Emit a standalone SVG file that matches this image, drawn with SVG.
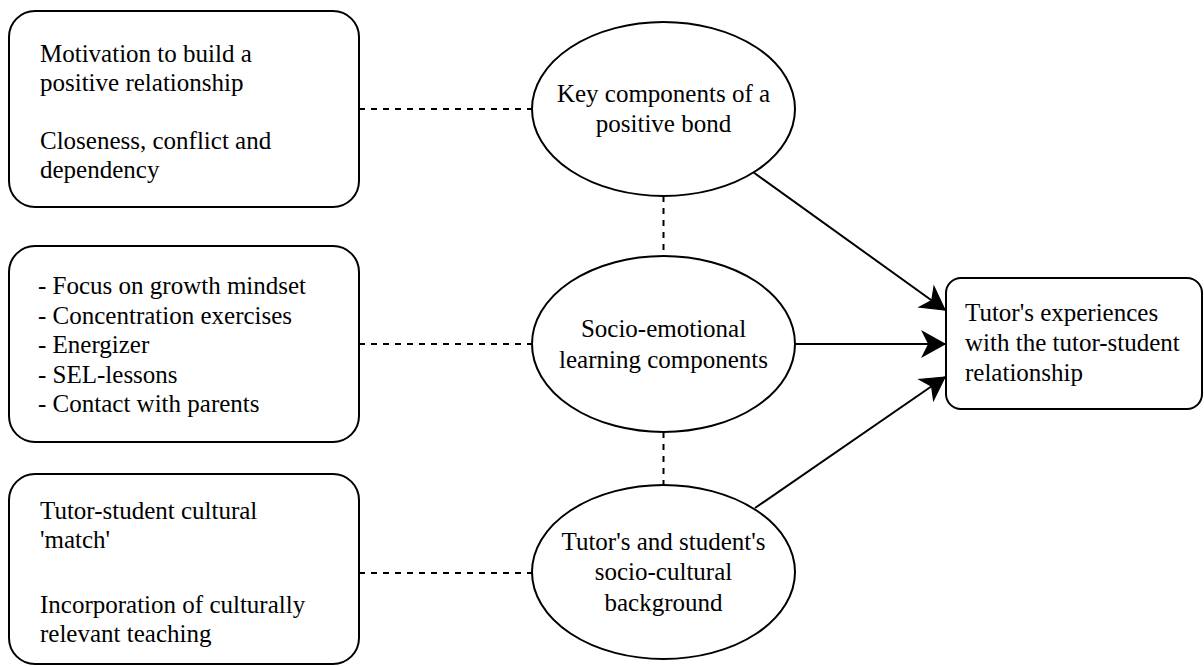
<svg xmlns="http://www.w3.org/2000/svg" width="1204" height="666" viewBox="0 0 1204 666">
<defs>
<style>
.box{fill:#fff;stroke:#000;stroke-width:2}
.t{font-family:'Liberation Serif','Times New Roman',serif;font-size:25px;fill:#000}
.c{text-anchor:middle}
.dash{stroke:#000;stroke-width:2;stroke-dasharray:6 6;fill:none}
.arr{stroke:#000;stroke-width:2;fill:none;marker-end:url(#ah)}
</style>
<marker id="ah" markerUnits="userSpaceOnUse" markerWidth="30" markerHeight="30" refX="0" refY="0" viewBox="-20 -12 24 24" orient="auto" overflow="visible">
<path d="M0,0 L-18,-10 L-13,0 L-18,10 Z" fill="#000" stroke="#000" stroke-width="1"/>
</marker>
</defs>
<rect width="1204" height="666" fill="#fff"/>
<g id="connectors">
<line class="dash" x1="359" y1="109" x2="532" y2="109"/>
<line class="dash" x1="359" y1="344" x2="532" y2="344"/>
<line class="dash" x1="359" y1="573" x2="532" y2="573"/>
<line class="dash" x1="663.5" y1="196" x2="663.5" y2="256"/>
<line class="dash" x1="663.5" y1="432" x2="663.5" y2="484"/>
<line class="arr" x1="753" y1="172" x2="945" y2="310"/>
<line class="arr" x1="795" y1="344" x2="945" y2="344"/>
<line class="arr" x1="755" y1="508" x2="945" y2="377"/>
</g>
<g id="box1">
<rect class="box" x="9" y="11" width="350" height="196" rx="26"/>
<text class="t" x="40" y="62">Motivation to build a</text>
<text class="t" x="40" y="91">positive relationship</text>
<text class="t" x="40" y="149">Closeness, conflict and</text>
<text class="t" x="40" y="178">dependency</text>
</g>
<g id="box2">
<rect class="box" x="9" y="246" width="350" height="196" rx="26"/>
<text class="t" x="38" y="294">- Focus on growth mindset</text>
<text class="t" x="38" y="323.5">- Concentration exercises</text>
<text class="t" x="38" y="353">- Energizer</text>
<text class="t" x="38" y="382.5">- SEL-lessons</text>
<text class="t" x="38" y="412">- Contact with parents</text>
</g>
<g id="box3">
<rect class="box" x="9" y="474" width="350" height="190" rx="26"/>
<text class="t" x="40" y="519">Tutor-student cultural</text>
<text class="t" x="40" y="548">'match'</text>
<text class="t" x="40" y="613">Incorporation of culturally</text>
<text class="t" x="40" y="642">relevant teaching</text>
</g>
<g id="ellipse1">
<ellipse class="box" cx="663.5" cy="109" rx="131.5" ry="87"/>
<text class="t c" x="663.5" y="102">Key components of a</text>
<text class="t c" x="663.5" y="132">positive bond</text>
</g>
<g id="ellipse2">
<ellipse class="box" cx="663.5" cy="344" rx="131.5" ry="88"/>
<text class="t c" x="663.5" y="337">Socio-emotional</text>
<text class="t c" x="663.5" y="368">learning components</text>
</g>
<g id="ellipse3">
<ellipse class="box" cx="663.5" cy="572" rx="131.5" ry="87"/>
<text class="t c" x="663.5" y="550">Tutor's and student's</text>
<text class="t c" x="663.5" y="580">socio-cultural</text>
<text class="t c" x="663.5" y="611">background</text>
</g>
<g id="target">
<rect class="box" x="946" y="278" width="256" height="131" rx="15"/>
<text class="t" x="965" y="321">Tutor's experiences</text>
<text class="t" x="965" y="351">with the tutor-student</text>
<text class="t" x="965" y="381">relationship</text>
</g>
</svg>
